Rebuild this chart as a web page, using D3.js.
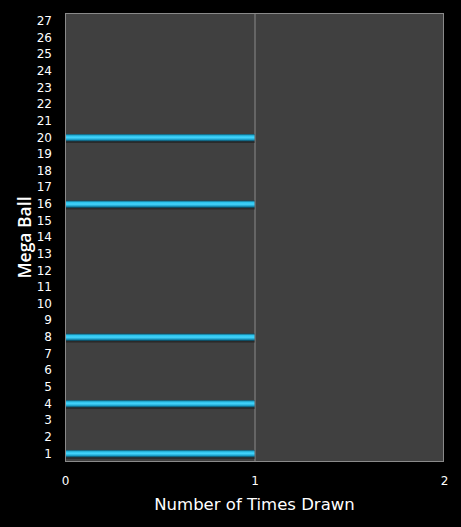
<!DOCTYPE html>
<html>
<head>
<meta charset="utf-8">
<script src="https://cdn.jsdelivr.net/npm/d3@7"></script>
<style>
  body { margin: 0; background: #000; }
  svg { display: block; }
</style>
</head>
<body>
<div id="content"></div>
<script>
// Screen dimensions
var w = 461;
var h = 527;

// Data
var balls = d3.range(1, 28).map(String); // 1..27
var drawnBalls = ["1", "4", "8", "16", "20"];
var drawnCounts = [1, 1, 1, 1, 1];
var xTicks = [0, 1, 2];

var margin = { top: 13, right: 17, bottom: 65, left: 65 };
var pw = w - margin.left - margin.right;
var ph = h - margin.top - margin.bottom;

var svg = d3.select("#content")
    .append("svg")
    .attr("width", w)
    .attr("height", h);

svg.append("rect")
   .attr("width", w)
   .attr("height", h)
   .attr("fill", "#000");

// bar gradient
var grad = svg.append("defs")
   .append("linearGradient")
   .attr("id", "barGrad")
   .attr("x1", "0%").attr("y1", "0%")
   .attr("x2", "0%").attr("y2", "100%");
grad.append("stop").attr("offset", "0%").attr("stop-color", "#0d4f66");
grad.append("stop").attr("offset", "25%").attr("stop-color", "#2cc4ee");
grad.append("stop").attr("offset", "50%").attr("stop-color", "#45d4fb");
grad.append("stop").attr("offset", "75%").attr("stop-color", "#1a9ec8");
grad.append("stop").attr("offset", "100%").attr("stop-color", "#08303f");

var x = d3.scaleLinear().domain([0, 2]).range([0, pw]);
var y = d3.scaleBand().domain(balls.slice().reverse()).range([0, ph]).paddingInner(0.55).paddingOuter(0.275);

var g = svg.append("g")
   .attr("transform", "translate(" + margin.left + "," + margin.top + ")");

// plot background
g.append("rect")
   .attr("width", pw)
   .attr("height", ph)
   .attr("fill", "#404040");

// grid
g.selectAll("line.grid")
   .data([1])
   .enter()
   .append("line")
   .attr("class", "grid")
   .attr("x1", function(d) { return x(d) + 0.5; })
   .attr("x2", function(d) { return x(d) + 0.5; })
   .attr("y1", 0)
   .attr("y2", ph)
   .attr("stroke", "#8a8a8a")
   .attr("stroke-width", 1);

// bar shadows
g.selectAll("rect.shadow")
   .data(drawnBalls)
   .enter()
   .append("rect")
   .attr("class", "shadow")
   .attr("x", 1)
   .attr("y", function(d) { return y(d) + y.bandwidth(); })
   .attr("width", function(d, i) { return x(drawnCounts[i]) - 1; })
   .attr("height", 1.5)
   .attr("fill", "#2a2a2a");

// bars
g.selectAll("rect.bar")
   .data(drawnBalls)
   .enter()
   .append("rect")
   .attr("class", "bar")
   .attr("x", 1)
   .attr("y", function(d) { return y(d); })
   .attr("width", function(d, i) { return x(drawnCounts[i]) - 1; })
   .attr("height", y.bandwidth())
   .attr("fill", "url(#barGrad)");

// border
g.append("rect")
   .attr("x", 0.5)
   .attr("y", 0.5)
   .attr("width", pw - 1)
   .attr("height", ph - 1)
   .attr("fill", "none")
   .attr("stroke", "#8a8a8a")
   .attr("stroke-width", 1);

// axes
var yAxis = g.append("g")
   .call(d3.axisLeft(y).tickSize(0).tickPadding(13));
yAxis.select(".domain").remove();
yAxis.selectAll("text")
   .attr("fill", "#fff")
   .attr("font-family", "DejaVu Sans, sans-serif")
   .attr("font-size", 12);

var xAxis = g.append("g")
   .attr("transform", "translate(0," + ph + ")")
   .call(d3.axisBottom(x).tickValues(xTicks).tickFormat(d3.format("d")).tickSize(0).tickPadding(14));
xAxis.select(".domain").remove();
xAxis.selectAll("text")
   .attr("fill", "#fff")
   .attr("font-family", "DejaVu Sans, sans-serif")
   .attr("font-size", 12);

// labels
svg.append("text")
   .attr("x", margin.left + x(1))
   .attr("y", 510)
   .attr("text-anchor", "middle")
   .attr("fill", "#fff")
   .attr("font-family", "DejaVu Sans, sans-serif")
   .attr("font-size", 16.5)
   .text("Number of Times Drawn");

svg.append("text")
   .attr("transform", "translate(31," + (margin.top + ph / 2) + ") rotate(-90)")
   .attr("text-anchor", "middle")
   .attr("fill", "#fff")
   .attr("font-family", "Open Sans, sans-serif")
   .attr("font-weight", 600)
   .attr("font-size", 17.5)
   .text("Mega Ball");
</script>
</body>
</html>
